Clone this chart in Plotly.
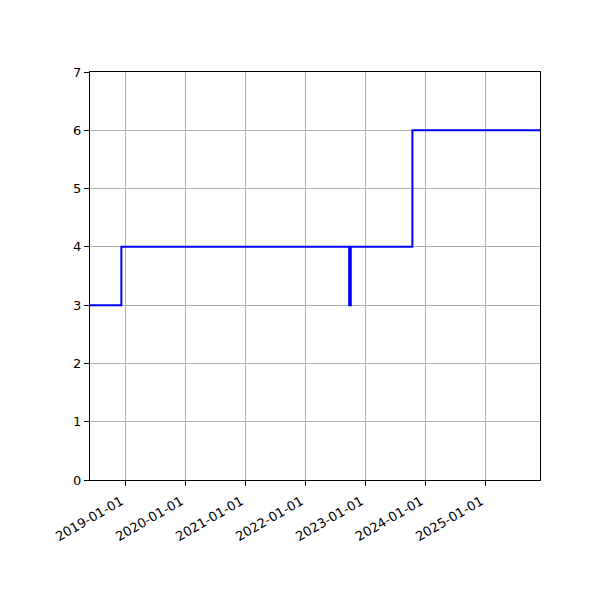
import plotly.graph_objects as pgo

# step series: date of each change and the level from that date on
dates = ['2018-06-01', '2018-12-09', '2022-09-26', '2022-10-06', '2023-10-16', '2025-12-01']
levels = [3, 4, 3, 4, 6, 6]

tick_dates = ['2019-01-01', '2020-01-01', '2021-01-01', '2022-01-01',
              '2023-01-01', '2024-01-01', '2025-01-01']

fig = pgo.Figure()
fig.add_trace(pgo.Scatter(x=dates, y=levels, mode='lines', line_shape='hv',
                          line=dict(color='blue', width=2), showlegend=False))

# page has an 8px body margin, so margins are shifted to land the axes box at 90..540 / 72..480
fig.update_layout(
    width=600, height=600,
    plot_bgcolor='white', paper_bgcolor='white',
    margin=dict(l=82, r=68, t=64, b=128),
    font=dict(family='DejaVu Sans', size=13, color='black'),
)
fig.update_xaxes(range=[dates[0], dates[-1]], tickvals=tick_dates, ticktext=tick_dates,
                 tickangle=-30, showgrid=True, gridcolor='#b0b0b0', gridwidth=1,
                 showline=True, linecolor='black', linewidth=1, mirror=True,
                 ticks='outside', ticklen=5, tickcolor='black', zeroline=False,
                 ticklabelshift=-4, ticklabelstandoff=3, automargin=False)
fig.update_yaxes(range=[0, 7], dtick=1, showgrid=True, gridcolor='#b0b0b0', gridwidth=1,
                 showline=True, linecolor='black', linewidth=1, mirror=True,
                 ticks='outside', ticklen=5, tickcolor='black', zeroline=False,
                 automargin=False)

fig.write_html("out.html")
